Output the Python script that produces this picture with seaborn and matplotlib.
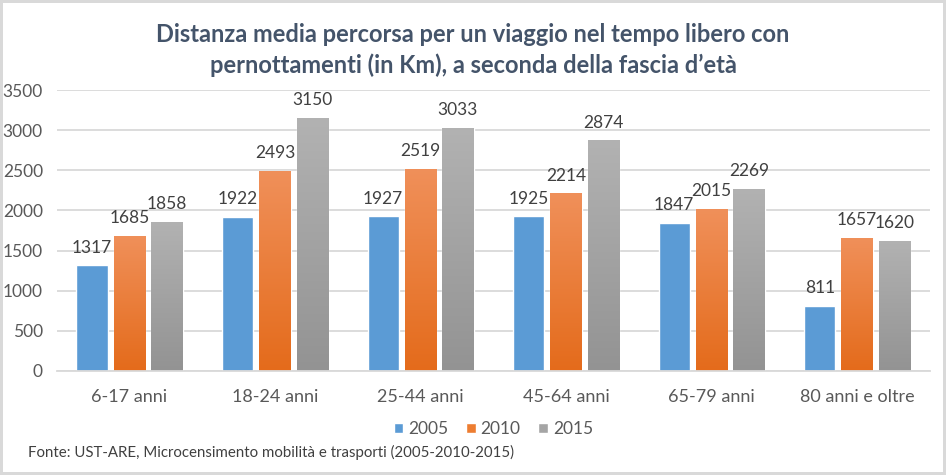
import numpy as np
import pandas as pd
import seaborn as sns
import matplotlib
matplotlib.use("Agg")
import matplotlib.pyplot as plt
from matplotlib.colors import LinearSegmentedColormap

categories = ["6-17 anni", "18-24 anni", "25-44 anni", "45-64 anni", "65-79 anni", "80 anni e oltre"]
years = ["2005", "2010", "2015"]
v2005 = [1317, 1922, 1927, 1925, 1847, 811]
v2010 = [1685, 2493, 2519, 2214, 2015, 1657]
v2015 = [1858, 3150, 3033, 2874, 2269, 1620]
yticks = [0, 500, 1000, 1500, 2000, 2500, 3000, 3500]

title = "Distanza media percorsa per un viaggio nel tempo libero con\npernottamenti (in Km), a seconda della fascia d\u2019et\u00e0"
source = "Fonte: UST-ARE, Microcensimento mobilit\u00e0 e trasporti (2005-2010-2015)"

df = pd.DataFrame({
    "cat": categories * 3,
    "year": [years[0]] * 6 + [years[1]] * 6 + [years[2]] * 6,
    "val": v2005 + v2010 + v2015,
})

sns.set_theme(style="white")
plt.rcParams["font.family"] = ["Lato", "DejaVu Sans"]

palette = {"2005": "#5B9BD5", "2010": "#ED7D31", "2015": "#A5A5A5"}
grads = {"2010": ("#F0905A", "#E46B1B"), "2015": ("#B2B2B2", "#939393")}

fig = plt.figure(figsize=(9.46, 4.75), dpi=100)
fig.patch.set_facecolor("white")
fig.patch.set_edgecolor("#D9D9D9")
fig.patch.set_linewidth(3)
ax = fig.add_axes([0.060, 0.219, 0.923, 0.5915])

sns.barplot(data=df, x="cat", y="val", hue="year", palette=palette,
            width=0.77, gap=0.16, ax=ax, legend=True, saturation=1)

ax.set_yticks(yticks)
ax.yaxis.grid(True, color="#D9D9D9", linewidth=1.3)
ax.set_axisbelow(True)
for s in ["top", "right", "left"]:
    ax.spines[s].set_visible(False)
ax.spines["bottom"].set_color("#D9D9D9")
ax.spines["bottom"].set_linewidth(1.3)
ax.tick_params(axis="x", length=0, labelsize=13, colors="#595959", pad=13)
ax.tick_params(axis="y", length=0, labelsize=12.5, colors="#595959", pad=10)
ax.set_xlabel("")
ax.set_ylabel("")

# gradients for 2010 and 2015 bars
for cont, yr in zip(ax.containers, years):
    if yr in grads:
        cmap = LinearSegmentedColormap.from_list("g", [grads[yr][1], grads[yr][0]])
        for p in cont.patches:
            x0, y0 = p.get_x(), p.get_y()
            w, h = p.get_width(), p.get_height()
            grad = np.linspace(0, 1, 256).reshape(-1, 1)
            im = ax.imshow(grad, cmap=cmap, origin="lower", aspect="auto",
                           extent=[x0, x0 + w, y0, y0 + h], zorder=p.get_zorder() + 0.1)
            im.set_clip_path(p)
    ax.bar_label(cont, padding=7, fontsize=12.5, color="#404040")

ax.set_xlim(-0.5, 5.5)
ax.set_ylim(0, 3500)

leg = ax.legend(loc="upper center", bbox_to_anchor=(0.5, -0.122), ncol=3, frameon=False,
                fontsize=12.5, handlelength=0.55, handleheight=0.55, handletextpad=0.3,
                columnspacing=1.0, labelcolor="#595959")

fig.text(0.5, 0.952, title, ha="center", va="top", fontsize=17, fontweight="bold",
         color="#44546A", linespacing=1.4)
fig.text(0.03, 0.048, source, ha="left", va="center", fontsize=10.8, color="#404040")

fig.savefig("out.png", dpi=100)
